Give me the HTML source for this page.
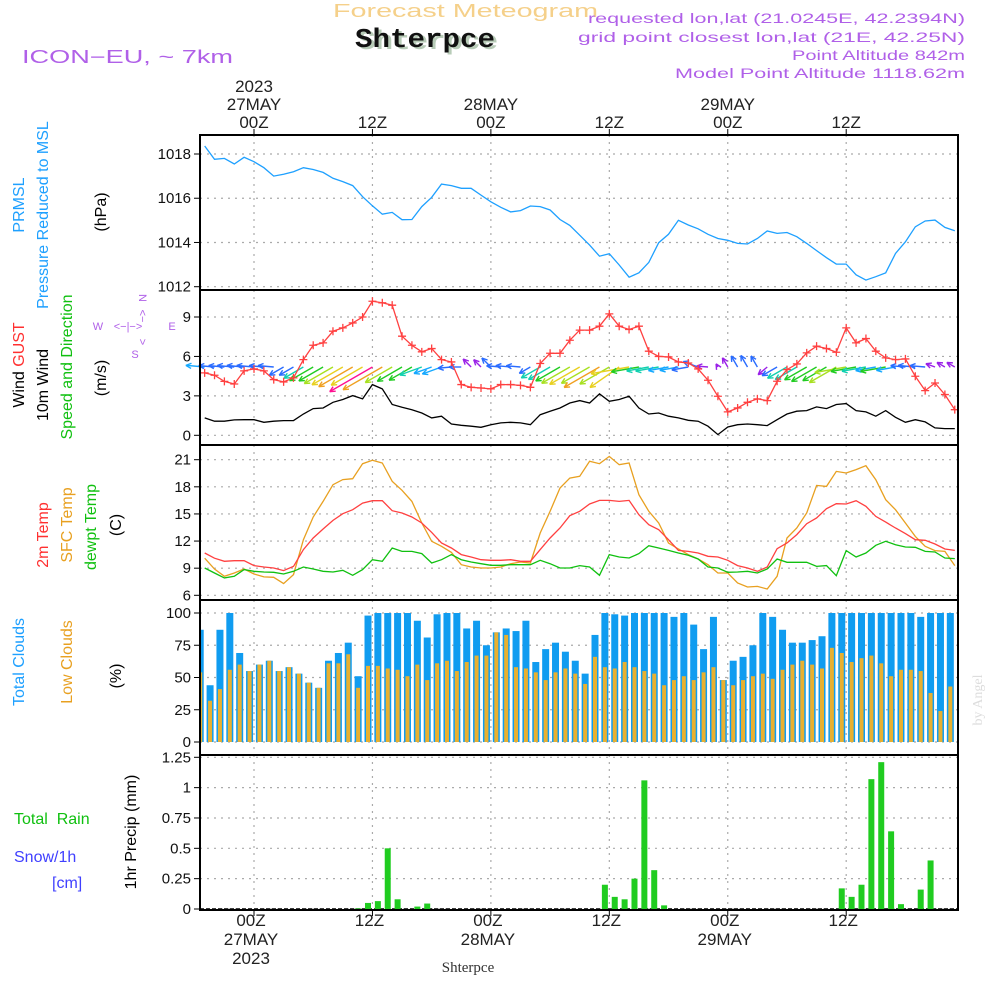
<!DOCTYPE html>
<html><head><meta charset="utf-8"><title>Meteogram Shterpce</title>
<style>
html,body{margin:0;padding:0;background:#fff;}
svg{display:block;font-family:"Liberation Sans",sans-serif;}
</style></head>
<body>
<svg id="chart" width="1000" height="1000" viewBox="0 0 1000 1000" xmlns="http://www.w3.org/2000/svg">
<rect width="1000" height="1000" fill="#fff"/>
<text x="333" y="17" font-size="18" fill="#f5d08a" textLength="265" lengthAdjust="spacingAndGlyphs">Forecast Meteogram</text>
<text x="358" y="49" font-family="Liberation Mono, monospace" font-weight="bold" font-size="27" fill="#b8ccb8" textLength="140" lengthAdjust="spacingAndGlyphs">Shterpce</text>
<text x="355" y="47" font-family="Liberation Mono, monospace" font-weight="bold" font-size="27" fill="#111" textLength="140" lengthAdjust="spacingAndGlyphs">Shterpce</text>
<text x="22" y="63" font-size="18" fill="#b060e8" textLength="211" lengthAdjust="spacingAndGlyphs">ICON−EU, ~ 7km</text>
<g fill="#b060e8" font-size="14" text-anchor="end">
<text x="965" y="23" textLength="377" lengthAdjust="spacingAndGlyphs">requested lon,lat (21.0245E, 42.2394N)</text>
<text x="965" y="42" textLength="387" lengthAdjust="spacingAndGlyphs">grid point closest lon,lat (21E, 42.25N)</text>
<text x="965" y="60" textLength="173" lengthAdjust="spacingAndGlyphs">Point Altitude 842m</text>
<text x="965" y="78" textLength="290" lengthAdjust="spacingAndGlyphs">Model Point Altitude 1118.62m</text>
</g>
<g id="plots"></g>
<!-- left titles -->
<g font-size="16">
<text transform="translate(24,205) rotate(-90)" text-anchor="middle" fill="#1ea0ff">PRMSL</text>
<text transform="translate(48,215) rotate(-90)" text-anchor="middle" fill="#1ea0ff">Pressure Reduced to MSL</text>
<text transform="translate(106,212) rotate(-90)" text-anchor="middle" fill="#000">(hPa)</text>
<text transform="translate(24,365) rotate(-90)" text-anchor="middle"><tspan fill="#000">Wind </tspan><tspan fill="#ff3030">GUST</tspan></text>
<text transform="translate(48,385) rotate(-90)" text-anchor="middle" fill="#000">10m Wind</text>
<text transform="translate(72,367) rotate(-90)" text-anchor="middle" fill="#10c010">Speed and Direction</text>
<text transform="translate(106,378) rotate(-90)" text-anchor="middle" fill="#000">(m/s)</text>
<text transform="translate(48,535) rotate(-90)" text-anchor="middle" fill="#ff3030">2m Temp</text>
<text transform="translate(72,525) rotate(-90)" text-anchor="middle" fill="#e8a020">SFC Temp</text>
<text transform="translate(96,527) rotate(-90)" text-anchor="middle" fill="#10c010">dewpt Temp</text>
<text transform="translate(121,525) rotate(-90)" text-anchor="middle" fill="#000">(C)</text>
<text transform="translate(24,662) rotate(-90)" text-anchor="middle" fill="#1ea0ff">Total Clouds</text>
<text transform="translate(72,662) rotate(-90)" text-anchor="middle" fill="#e8a020">Low Clouds</text>
<text transform="translate(121,676) rotate(-90)" text-anchor="middle" fill="#000">(%)</text>
<text transform="translate(136,832) rotate(-90)" text-anchor="middle" fill="#000">1hr Precip (mm)</text>
<text x="14" y="824" fill="#10c010" xml:space="preserve">Total  Rain</text>
<text x="14" y="862" fill="#4040ff">Snow/1h</text>
<text x="52" y="888" fill="#4040ff">[cm]</text>
</g>
<g fill="#b060e8" font-size="11" text-anchor="middle">
<text x="98" y="330">W</text><text x="128" y="330">&lt;−|−&gt;</text><text x="172" y="330">E</text>
<text transform="translate(139,298) rotate(90)">N</text>
<text transform="translate(139,316) rotate(90)">&lt;−</text>
<text transform="translate(139,342) rotate(90)">&gt;</text>
<text x="135" y="358">S</text>
</g>
<text transform="translate(982,700) rotate(-90)" text-anchor="middle" font-family="Liberation Serif, serif" font-size="14" fill="#ddd">by Angel</text>
<text x="468" y="972" text-anchor="middle" font-family="Liberation Serif, serif" font-size="15" fill="#333">Shterpce</text>
</svg>
<script>
// ---- data (hourly, h = -5 .. 71 relative to 00Z 27MAY) ----
const hours = [];
for (let h = -5; h <= 71; h++) hours.push(h);
const pressure = [1018.36,1017.76,1017.8,1017.55,1017.85,1017.65,1017.38,1017.0,1017.08,1017.2,1017.38,1017.3,1017.17,1016.9,1016.75,1016.57,1016.07,1015.66,1015.28,1015.36,1015.03,1015.04,1015.62,1016.04,1016.64,1016.57,1016.45,1016.45,1016.14,1015.84,1015.59,1015.38,1015.44,1015.65,1015.62,1015.47,1015.04,1014.77,1014.33,1013.88,1013.38,1013.49,1012.98,1012.43,1012.63,1013.1,1013.99,1014.37,1015.0,1014.79,1014.62,1014.37,1014.18,1014.1,1013.96,1013.93,1014.18,1014.52,1014.41,1014.45,1014.26,1013.96,1013.63,1013.31,1013.02,1013.02,1012.54,1012.3,1012.45,1012.63,1013.5,1014.03,1014.71,1014.97,1015.01,1014.68,1014.53];
const gust = [4.75,4.57,4.1,3.9,4.9,5.05,4.9,4.24,4.06,4.37,5.76,6.85,7.03,7.92,8.17,8.55,9.0,10.2,10.08,9.9,7.54,6.85,6.35,6.6,5.76,5.58,3.86,3.65,3.6,3.53,3.86,3.86,3.8,3.65,5.46,6.24,6.24,7.23,8.0,8.0,8.3,9.24,8.3,8.05,8.3,6.4,6.0,5.96,5.58,5.5,5.05,4.19,2.97,1.78,2.08,2.51,2.77,2.64,4.11,5.0,5.43,6.27,6.78,6.6,6.32,8.17,7.03,7.36,6.4,5.89,5.76,5.81,4.49,3.4,3.98,3.1,1.95];
const wind10m = [1.32,1.07,1.07,1.17,1.19,1.19,0.99,1.07,1.12,1.12,1.62,2.03,2.08,2.51,2.72,3.02,2.77,3.86,3.53,2.34,2.13,1.95,1.7,1.32,1.45,0.86,0.76,0.69,0.61,0.81,0.94,0.99,0.94,0.81,1.57,1.83,2.08,2.46,2.64,2.46,3.15,2.59,2.72,2.97,2.08,1.62,1.7,1.45,1.32,1.14,1.07,0.69,0.05,0.63,0.81,0.86,0.81,0.74,1.19,1.62,1.83,1.88,2.16,2.03,2.34,2.41,1.88,1.78,1.45,1.88,1.37,0.99,1.19,1.02,0.56,0.51,0.51];
const windDir = [95,95,95,95,95,95,95,95,60,60,60,60,60,60,60,60,60,60,60,60,60,60,70,70,70,85,90,135,135,135,95,95,95,60,60,60,60,60,60,60,60,60,55,80,80,80,80,80,80,80,110,95,150,150,150,150,150,50,60,60,60,60,60,60,60,80,80,80,80,80,80,95,95,95,110,120,120];
const temp2m = [10.68,10.1,9.76,9.83,9.83,9.28,9.13,9.02,8.73,9.2,11.05,12.34,13.33,14.29,15.03,15.47,16.2,16.47,16.47,15.36,15.1,14.66,14.0,12.96,11.79,11.23,10.5,10.24,9.94,9.87,9.87,9.94,9.76,9.76,11.05,12.34,13.44,14.81,15.29,16.1,16.5,16.5,16.39,16.5,14.92,13.81,13.26,12.15,10.97,10.86,10.68,10.31,10.24,9.87,9.28,9.02,8.65,9.13,11.16,11.79,12.71,13.92,14.55,15.58,16.13,16.1,16.47,15.84,14.73,14.1,13.44,12.82,12.15,12.08,11.67,11.12,10.97];
const sfcTemp = [10.1,8.91,8.1,8.47,8.91,8.36,8.03,7.99,7.29,8.29,12.15,14.66,16.39,18.24,18.8,18.9,20.56,20.93,20.63,18.61,17.61,16.39,14.0,11.97,11.42,10.75,9.39,9.13,9.02,9.02,9.13,9.5,9.68,9.57,12.89,15.29,17.87,18.97,19.16,20.82,20.56,21.37,20.45,20.63,17.13,15.29,14.0,11.79,11.12,10.5,10.02,9.39,8.47,8.47,7.36,6.92,6.99,6.7,8.1,12.34,13.44,15.1,18.16,18.05,19.71,19.53,19.9,20.34,18.79,16.58,15.47,14.0,12.52,11.42,10.94,10.86,9.28];
const dewpt = [9.02,8.47,7.92,8.1,8.84,8.65,8.58,8.54,8.36,8.65,9.13,8.91,8.65,8.58,8.76,8.21,8.84,9.94,9.76,11.23,10.86,10.86,10.61,9.57,9.94,10.5,9.94,9.68,9.5,9.32,9.32,9.39,9.39,9.39,9.87,9.5,9.02,9.02,9.28,9.13,8.21,10.5,10.24,10.13,10.61,11.49,11.23,10.97,10.68,10.42,10.02,9.13,9.02,8.54,8.58,8.65,8.47,8.91,10.02,9.65,9.65,9.65,9.2,9.28,8.17,10.94,10.24,10.68,11.53,11.97,11.6,11.34,11.31,10.86,10.79,10.13,10.06];
const totalCloud = [87,44,87,100,69,55,60,63,55,58,53,46,42,63,69,77,51,98,100,100,100,100,94,81,99,100,100,88,94,75,85,88,86,94,62,72,77,70,63,53,83,100,99,98,100,100,100,100,97,100,91,72,97,48,63,66,75,100,97,87,77,77,79,82,100,100,100,100,100,100,100,100,100,97,100,100,100];
const lowCloud = [54,32,41,56,60,55,60,63,55,58,53,46,42,61,61,68,42,59,59,57,56,51,60,48,61,63,55,62,67,67,85,83,58,57,54,48,54,57,53,45,66,58,57,62,58,55,53,44,48,51,48,54,58,48,44,48,51,53,49,56,60,63,60,57,73,69,62,65,67,61,51,56,56,55,38,24,43];
const precip = [0,0,0,0,0,0,0,0,0,0,0,0,0,0,0,0,0.005,0.05,0.065,0.5,0.08,0,0.02,0.045,0,0,0,0,0,0,0,0,0,0,0,0,0,0,0,0,0,0.2,0.1,0.08,0.25,1.06,0.32,0.03,0,0,0,0,0,0,0,0,0,0,0,0,0,0,0,0,0,0.17,0.1,0.2,1.07,1.21,0.64,0.04,0,0.16,0.4,0,0];
const pTicks = [1012,1014,1016,1018];
const wTicks = [0,3,6,9];
const tTicks = [6,9,12,15,18,21];
const cTicks = [0,25,50,75,100];
const rTicks = [0,0.25,0.5,0.75,1,1.25];
const timeTicks = [0,12,24,36,48,60];
const topLabels = [["2023","27MAY","00Z"],["","","12Z"],["","28MAY","00Z"],["","","12Z"],["","29MAY","00Z"],["","","12Z"]];
const bottomLabels = [["00Z","27MAY","2023"],["12Z","",""],["00Z","28MAY",""],["12Z","",""],["00Z","29MAY",""],["12Z","",""]];

// ---- axes ----
const X0 = 200, X1 = 958;
const xT = h => 254 + 9.87 * h;
const lin = (v0, p0, v1, p1) => v => p0 + (v - v0) * (p1 - p0) / (v1 - v0);
const panels = [
  {name:'pressure', top:135, bot:290, y: lin(1018,154,1012,286.7), ticks:pTicks, fmt:v=>v},
  {name:'wind', top:290, bot:445, y: lin(9,317,0,435.3), ticks:wTicks, fmt:v=>v},
  {name:'temperature', top:445, bot:600, y: lin(21,459.7,6,595.3), ticks:tTicks, fmt:v=>v},
  {name:'clouds', top:600, bot:755, y: lin(100,613,0,742), ticks:cTicks, fmt:v=>v},
  {name:'precip', top:755, bot:910, y: lin(1.25,757.3,0,909), ticks:rTicks, fmt:v=>v}
];
const NS = 'http://www.w3.org/2000/svg';
const root = document.getElementById('plots');
function mk(tag, attrs, parent) {
  const e = document.createElementNS(NS, tag);
  for (const k in attrs) e.setAttribute(k, attrs[k]);
  (parent || root).appendChild(e);
  return e;
}
panels.forEach(p => {
  const g = mk('g', {});
  
  
  p.g = g;
  timeTicks.forEach(t => {
    const l = mk('line', {x1:xT(t), x2:xT(t), y1:p.top, y2:p.bot, stroke:'#aaa', 'stroke-width':1.2, 'stroke-dasharray':'2,5'}, g);
    
    
  });
  p.ticks.forEach(v => {
    const y = p.y(v);
    const l = mk('line', {x1:X0, x2:X1, y1:y, y2:y, stroke:'#aaa', 'stroke-width':1.2, 'stroke-dasharray':'2,5'}, g);
    
    
    mk('line', {x1:X0-6, x2:X0, y1:y, y2:y, stroke:'#000', 'stroke-width':1}, g);
    const t = mk('text', {x:X0-9, y:y+5, 'text-anchor':'end', 'font-size':15, fill:'#111'}, g);
    
    
    t.textContent = p.fmt(v);
  });
});
function polyline(arr, p, color, name, parent) {
  const pts = arr.map((v, i) => xT(hours[i]).toFixed(1) + ',' + p.y(v).toFixed(1)).join(' ');
  const l = mk('polyline', {points:pts, fill:'none', stroke:color, 'stroke-width':1.3}, parent || p.g);
  
  
  return l;
}
// pressure
polyline(pressure, panels[0], '#1ea0ff', 'pressure-line');
// wind
const pw = panels[1];
function windColor(s) {
  if (s < 0.75) return '#9a20e8';
  if (s < 1.25) return '#2a6cff';
  if (s < 1.55) return '#14a8ff';
  if (s < 1.85) return '#10d0b0';
  if (s < 2.25) return '#20cc20';
  if (s < 2.6) return '#a8e020';
  if (s < 3.0) return '#e8d020';
  if (s < 3.6) return '#f0a020';
  return '#ff1090';
}
hours.forEach((h, i) => {
  const s = wind10m[i];
  const b = (windDir[i] + 180) * Math.PI / 180;
  const L = 3 + 12 * s;
  const x0 = xT(h), y0 = 367;
  const ux = Math.sin(b), uy = -Math.cos(b);
  const x1 = x0 + ux * L, y1 = y0 + uy * L;
  const c = windColor(s);
  const a = mk('g', {stroke:c, 'stroke-width':1.4, fill:'none'}, pw.g);
  
  
  mk('line', {x1:x0, y1:y0, x2:x1, y2:y1}, a);
  const hl = 6, ang = 0.45;
  [ang, -ang].forEach(d => {
    const bx = -(ux * Math.cos(d) - uy * Math.sin(d));
    const by = -(ux * Math.sin(d) + uy * Math.cos(d));
    mk('line', {x1:x1, y1:y1, x2:x1 + bx * hl, y2:y1 + by * hl}, a);
  });
});
polyline(wind10m, pw, '#000', 'wind10m-line');
polyline(gust, pw, '#ff4040', 'gust-line');
hours.forEach((h, i) => {
  const x = xT(h), y = pw.y(gust[i]);
  const m = mk('path', {d:`M${x-4},${y}H${x+4}M${x},${y-4}V${y+4}`, stroke:'#ff4040', 'stroke-width':1.3}, pw.g);
  
  
});
// temps
const pt = panels[2];
polyline(sfcTemp, pt, '#e8a020', 'sfc-temp-line');
polyline(temp2m, pt, '#ff4040', 'temp2m-line');
polyline(dewpt, pt, '#10c010', 'dewpt-line');
// clouds
const pc = panels[3];
hours.forEach((h, i) => {
  const xc = xT(h - 0.45);
  let x = Math.max(X0, xc - 3.5), w = Math.min(xc + 3.5, X1) - x;
  const y = pc.y(totalCloud[i]);
  const r = mk('rect', {x:x, y:y, width:w, height:pc.y(0) - y, fill:'#109cf0'}, pc.g);
  
  
  x = Math.max(X0, xc - 2); w = Math.min(xc + 2, X1) - x;
  const y2 = pc.y(lowCloud[i]);
  const r2 = mk('rect', {x:x, y:y2, width:w, height:pc.y(0) - y2, fill:'#e8b030'}, pc.g);
  
  
});
// precip
const pr = panels[4];
mk('line', {x1:X0, x2:X1, y1:pr.y(0), y2:pr.y(0), stroke:'#000', 'stroke-width':1.5, 'stroke-dasharray':'4,2'}, pr.g);
hours.forEach((h, i) => {
  if (precip[i] <= 0) return;
  const xc = xT(h - 0.45);
  const y = pr.y(precip[i]);
  const r = mk('rect', {x:xc - 3, y:y, width:6, height:pr.y(0) - y, fill:'#20cc20'}, pr.g);
  
  
});
// frames
panels.forEach(p => {
  const f = mk('rect', {x:X0, y:p.top, width:X1 - X0, height:p.bot - p.top, fill:'none', stroke:'#000', 'stroke-width':2}, p.g);
  
  
});
// time labels
timeTicks.forEach((t, k) => {
  const x = xT(t);
  mk('line', {x1:x, x2:x, y1:129, y2:135, stroke:'#000'});
  mk('line', {x1:x, x2:x, y1:910, y2:916, stroke:'#000'});
  topLabels[k].forEach((s, j) => {
    if (!s) return;
    const tx = mk('text', {x:x, y:92 + j * 18, 'text-anchor':'middle', 'font-size':17, fill:'#222'});
    
    
    tx.textContent = s;
  });
  bottomLabels[k].forEach((s, j) => {
    if (!s) return;
    const tx = mk('text', {x:x - 3, y:926 + j * 19, 'text-anchor':'middle', 'font-size':17, fill:'#222'});
    
    
    tx.textContent = s;
  });
});
</script>
</body></html>
